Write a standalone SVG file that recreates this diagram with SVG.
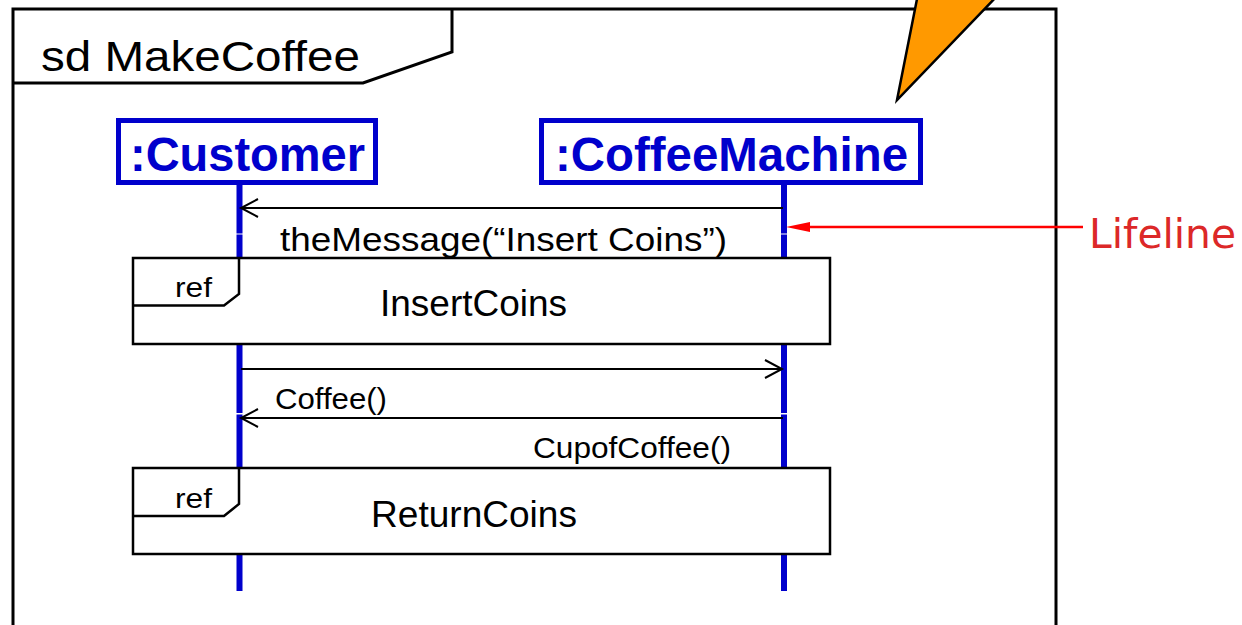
<svg xmlns="http://www.w3.org/2000/svg" width="1242" height="625" viewBox="0 0 1242 625">
<style>
.frame{fill:#fff;stroke:#000;stroke-width:3}
.tab{fill:none;stroke:#000;stroke-width:3}
.head{fill:#fff;stroke:#0000CC;stroke-width:5}
.headtxt{font-family:"Liberation Sans",Arial,sans-serif;font-weight:bold;font-size:48px;fill:#0000CC;text-anchor:middle}
.life{stroke:#0000CC;stroke-width:6;fill:none}
.ref{fill:#fff;stroke:#000;stroke-width:2.5}
.reftab{fill:none;stroke:#000;stroke-width:2.5}
.txt{font-family:"Liberation Sans",Arial,sans-serif;fill:#000}
.msg{stroke:#000;stroke-width:2;fill:none}
.note{font-family:"DejaVu Sans",Verdana,sans-serif;font-size:40px;fill:#DC2828}
</style>
<rect width="1242" height="625" fill="#fff"/>
<g id="frame">
<rect class="frame" x="13" y="9" width="1043" height="640"/>
<path class="tab" d="M13,83 H363 L452,52 V9"/>
<text class="txt" x="41" y="71" font-size="43" textLength="319" lengthAdjust="spacingAndGlyphs">sd MakeCoffee</text>
</g>
<g id="callout">
<polygon points="897,100 918,-6 999,-6" fill="#FF9900" stroke="#000" stroke-width="2.5"/>
</g>
<g id="lifelines">
<path class="life" d="M239.5,185 V233.5 M239.5,234.5 V413 M239.5,414.5 V591"/>
<path class="life" d="M784,185 V233.5 M784,234.5 V413 M784,414.5 V591"/>
</g>
<g id="customer">
<rect class="head" x="118.5" y="120.5" width="257" height="62"/>
<text class="headtxt" x="247.5" y="171" textLength="235" lengthAdjust="spacingAndGlyphs">:Customer</text>
</g>
<g id="coffeeMachine">
<rect class="head" x="541.5" y="120.5" width="379" height="62"/>
<text class="headtxt" x="731.5" y="171" textLength="353" lengthAdjust="spacingAndGlyphs">:CoffeeMachine</text>
</g>
<g id="refInsertCoins">
<rect class="ref" x="133" y="258" width="697" height="86"/>
<path class="reftab" d="M133,305.5 H224 L239,294 V258"/>
<text class="txt" x="175" y="297" font-size="28" textLength="37" lengthAdjust="spacingAndGlyphs">ref</text>
<text class="txt" x="380" y="316" font-size="36" textLength="187" lengthAdjust="spacingAndGlyphs">InsertCoins</text>
</g>
<g id="refReturnCoins">
<rect class="ref" x="133" y="468" width="697" height="86"/>
<path class="reftab" d="M133,516 H224 L239,504 V468"/>
<text class="txt" x="175" y="508" font-size="28" textLength="37" lengthAdjust="spacingAndGlyphs">ref</text>
<text class="txt" x="371" y="527" font-size="36" textLength="206" lengthAdjust="spacingAndGlyphs">ReturnCoins</text>
</g>
<g id="connectors">
<line class="msg" x1="783" y1="208" x2="241" y2="208"/>
<polyline class="msg" points="258,199 241,208 258,217"/>
<line class="msg" x1="241" y1="369" x2="782" y2="369"/>
<polyline class="msg" points="765,360 782,369 765,378"/>
<line class="msg" x1="783" y1="418" x2="241" y2="418"/>
<polyline class="msg" points="258,409 241,418 258,427"/>
<line x1="806" y1="227" x2="1083" y2="227" stroke="#FF0000" stroke-width="2.5"/>
<polygon points="786,227 810,222 810,232" fill="#FF0000"/>
</g>
<g id="labels">
<text class="txt" x="280" y="251" font-size="33" textLength="447" lengthAdjust="spacingAndGlyphs">theMessage(“Insert Coins”)</text>
<text class="txt" x="275" y="409" font-size="30" textLength="112" lengthAdjust="spacingAndGlyphs">Coffee()</text>
<text class="txt" x="533" y="458" font-size="30" textLength="198" lengthAdjust="spacingAndGlyphs">CupofCoffee()</text>
</g>
<g id="lifelineNote">
<text class="note" x="1089" y="248" textLength="147" lengthAdjust="spacingAndGlyphs">Lifeline</text>
</g>
</svg>
